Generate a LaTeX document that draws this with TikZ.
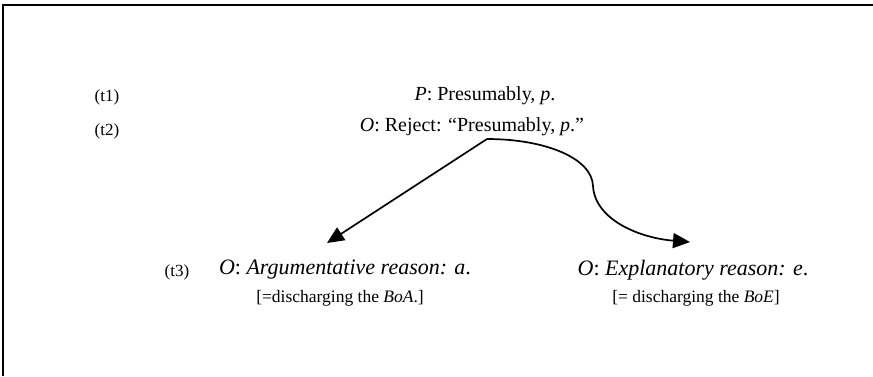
\documentclass[tikz,border=0pt]{standalone}
\usepackage{fontspec}
\setmainfont{Liberation Serif}
\usetikzlibrary{arrows.meta}

\begin{document}
\begin{tikzpicture}[x=1pt, y=-1pt,
      turn/.style={font=\fontsize{17}{19}\selectfont, inner sep=0pt},
      move/.style={font=\fontsize{20}{23}\selectfont, inner sep=0pt},
      reason/.style={font=\fontsize{22}{25}\selectfont, inner sep=0pt},
      note/.style={font=\fontsize{17.5}{20}\selectfont, inner sep=0pt},
      arr/.style={-{Triangle[length=17pt, width=15pt]}, line width=1.7pt}]
    \useasboundingbox (0,0) rectangle (873,376);
    % frame (only top and left edges show)
    \draw[line width=2pt] (3,376) -- (3,5) -- (873,5);
    % turns
    \node[turn] (t1) at (107,97) {(t1)};
    \node[turn] (t2) at (107,131) {(t2)};
    \node[turn] (t3) at (177,272) {(t3)};
    \node[move] (claim) at (485,96) {\textit{P}: Presumably, \textit{p}.};
    \node[move] (reject) at (472,127) {\textit{O}: Reject: “Presumably, \textit{p}.”};
    \node[reason] (argreason) at (345,270) {\textit{O}: \textit{Argumentative reason: a}.};
    \node[reason] (explreason) at (693,270) {\textit{O}: \textit{Explanatory reason: e}.};
    \node[note] (boa) at (340,298) {[=discharging the \textit{BoA}.]};
    \node[note] (boe) at (696,298) {[= discharging the \textit{BoE}]};
    \coordinate (fork) at (487,139);
    \coordinate (argtip) at (327,243);
    \coordinate (expltip) at (690,242);
    \draw[arr] (fork) -- (argtip);
    \draw[arr] (fork) .. controls (545,139) and (592,158) .. (593,186)
                      .. controls (595,220) and (640,238) .. (expltip);
  \end{tikzpicture}
\end{document}
